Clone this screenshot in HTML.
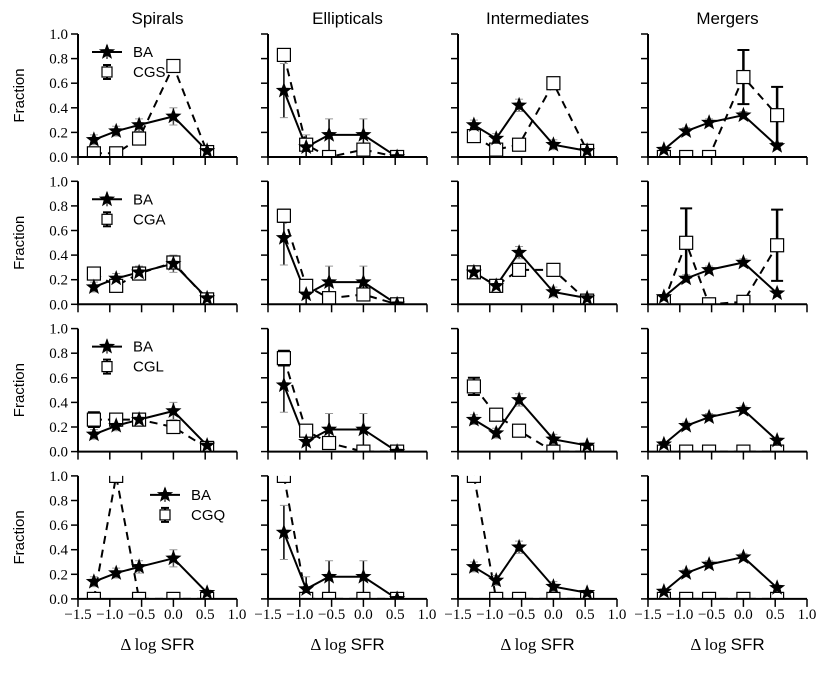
<!DOCTYPE html>
<html><head><meta charset="utf-8"><style>
body{margin:0;background:#fff}
svg text{fill:#000}
</style></head><body>
<svg id="c" width="831" height="671" xmlns="http://www.w3.org/2000/svg"></svg>
<script>
const titles=["Spirals","Ellipticals","Intermediates","Mergers"];
const cmpNames=["CGS","CGA","CGL","CGQ"];
const xs=[-1.25,-0.9,-0.54,0,0.53];
const baVals=[[0.14,0.21,0.26,0.33,0.05],[0.54,0.08,0.18,0.18,0.0],[0.26,0.15,0.42,0.1,0.05],[0.06,0.21,0.28,0.34,0.09]];
const baErr=[[0.04,0.04,0.05,0.07,0.02],[0.22,0.1,0.13,0.13,0.02],[0.04,0.04,0.05,0.04,0.02],[0.02,0.03,0.03,0.03,0.02]];
const cgsVals=[[0.03,0.03,0.15,0.74,0.04],[0.83,0.1,0.0,0.06,0.0],[0.17,0.06,0.1,0.6,0.05],[0.0,0.0,0.0,0.65,0.34]];
const cgsErr=[[0,0,0,0,0],[0.04,0,0,0,0],[0,0,0,0.03,0],[0,0,0,0.22,0.23]];
const cgaVals=[[0.25,0.15,0.25,0.34,0.04],[0.72,0.15,0.05,0.08,0.0],[0.26,0.15,0.28,0.28,0.03],[0.02,0.5,0.0,0.02,0.48]];
const cgaErr=[[0,0.02,0.03,0.04,0],[0.05,0.03,0,0,0],[0,0,0,0,0],[0,0.28,0,0.02,0.29]];
const cglVals=[[0.26,0.26,0.26,0.2,0.03],[0.76,0.17,0.07,0.0,0.0],[0.53,0.3,0.17,0.0,0.0],[0.0,0.0,0.0,0.0,0.0]];
const cglErr=[[0.06,0.05,0.04,0.04,0],[0.06,0.04,0.02,0,0],[0.07,0.04,0.02,0,0],[0,0,0,0,0]];
const cgqVals=[[0.0,1.0,0.0,0.0,0.0],[1.0,0.0,0.0,0.0,0.0],[1.0,0.0,0.0,0.0,0.0],[0.0,0.0,0.0,0.0,0.0]];
const cgqErr=[[0,0,0,0,0],[0,0,0,0,0],[0,0,0,0,0],[0,0,0,0,0]];
const cmpVals=[cgsVals,cgaVals,cglVals,cgqVals];
const cmpErr=[cgsErr,cgaErr,cglErr,cgqErr];
const xTicks=[-1.5,-1.0,-0.5,0.0,0.5,1.0];
const xTickLabels=["\u22121.5","\u22121.0","\u22120.5","0.0","0.5","1.0"];
const yTicks=[0,0.2,0.4,0.6,0.8,1.0];
const yTickLabels=["0.0","0.2","0.4","0.6","0.8","1.0"];

const NS="http://www.w3.org/2000/svg";
const svg=document.getElementById('c');
const SERIF='"Liberation Serif",serif', SANS='"Liberation Sans",sans-serif';
function mk(tag,attrs,parent){const e=document.createElementNS(NS,tag);for(const k in attrs)e.setAttribute(k,attrs[k]);(parent||svg).appendChild(e);return e;}
function star(cx,cy,R){let p=[];for(let i=0;i<10;i++){const r=i%2?R*0.42:R;const a=-Math.PI/2+i*Math.PI/5;p.push((cx+r*Math.cos(a)).toFixed(1)+","+(cy+r*Math.sin(a)).toFixed(1));}return p.join(" ");}

for(let r=0;r<4;r++){for(let c=0;c<4;c++){
  const x0=78+c*190,W=159,yb=157+r*147.3,H=123;
  const X=v=>x0+(v+1.5)/2.5*W, Y=v=>yb-v*H;
  const g=mk('g',{});
  
  
  const cid='clip'+r+c;
  const cp=mk('clipPath',{id:cid},g);mk('rect',{x:x0,y:yb-H,width:W,height:H},cp);
  const plot=mk('g',{'clip-path':'url(#'+cid+')'},g);
  const cv=cmpVals[r][c],ce=cmpErr[r][c];
  const dl=mk('polyline',{points:xs.map((x,i)=>X(x)+","+Y(cv[i])).join(" "),fill:"none",stroke:"#000","stroke-width":2,"stroke-dasharray":"8,6"},plot);
  
  const bv=baVals[c],be=baErr[c];
  xs.forEach((x,i)=>{const e=be[i];const l=mk('line',{x1:X(x),x2:X(x),y1:Y(bv[i]-e),y2:Y(bv[i]+e),stroke:c==1?"#000":"#444","stroke-width":1.5},plot);
    
    mk('line',{x1:X(x)-4,x2:X(x)+4,y1:Y(bv[i]+e),y2:Y(bv[i]+e),stroke:"#999","stroke-width":1},plot);
    mk('line',{x1:X(x)-4,x2:X(x)+4,y1:Y(bv[i]-e),y2:Y(bv[i]-e),stroke:"#999","stroke-width":1},plot);});
  const bl=mk('polyline',{points:xs.map((x,i)=>X(x)+","+Y(bv[i])).join(" "),fill:"none",stroke:"#000","stroke-width":2},plot);
  
  xs.forEach((x,i)=>{const e=ce[i];if(e>0){
    const l=mk('line',{x1:X(x),x2:X(x),y1:Y(cv[i]-e),y2:Y(cv[i]+e),stroke:"#000","stroke-width":2.5},plot);
    
    mk('line',{x1:X(x)-6,x2:X(x)+6,y1:Y(cv[i]+e),y2:Y(cv[i]+e),stroke:"#000","stroke-width":2},plot);
    mk('line',{x1:X(x)-6,x2:X(x)+6,y1:Y(cv[i]-e),y2:Y(cv[i]-e),stroke:"#000","stroke-width":2},plot);}
    const s=mk('rect',{x:X(x)-6.5,y:Y(cv[i])-6.5,width:13,height:13,fill:"#fff",stroke:"#000","stroke-width":1.2},plot);
    });
  xs.forEach((x,i)=>{const s=mk('polygon',{points:star(X(x),Y(bv[i]),8.5),fill:"#000"},plot);
    });
  const ax=mk('path',{d:`M${x0} ${yb-H}V${yb}H${x0+W}`,fill:"none",stroke:"#000","stroke-width":2},g);
  
  xTicks.forEach((t,i)=>{mk('line',{x1:X(t),x2:X(t),y1:yb,y2:yb+8,stroke:"#000","stroke-width":1.5},g);
    if(r==3){const tl=mk('text',{x:X(t),y:yb+20,'text-anchor':'middle','font-family':SERIF,'font-size':15},g);tl.textContent=xTickLabels[i];
      }});
  yTicks.forEach((t,i)=>{mk('line',{x1:x0-7,x2:x0,y1:Y(t),y2:Y(t),stroke:"#000","stroke-width":1.5},g);
    if(c==0){const tl=mk('text',{x:x0-10,y:Y(t)+5,'text-anchor':'end','font-family':SERIF,'font-size':15},g);tl.textContent=yTickLabels[i];
      }});
  if(r==0){const t=mk('text',{x:x0+W/2,y:24,'text-anchor':'middle','font-family':SANS,'font-size':17},g);t.textContent=titles[c];
    }
  if(r==3){const t=mk('text',{x:x0+W/2,y:650,'text-anchor':'middle','font-size':17},g);
    
    t.innerHTML='<tspan font-family="Liberation Serif">\u0394 log </tspan><tspan font-family="Liberation Sans">SFR</tspan>';}
  if(c==0){const t=mk('text',{transform:`translate(24 ${yb-H/2}) rotate(-90)`,'text-anchor':'middle','font-family':SANS,'font-size':15},g);t.textContent="Fraction";
    
    const lx=r==3?150:92, ly=(yb-H)+(r==3?19:18);
    const lg=mk('g',{},g);
    mk('line',{x1:lx,x2:lx+30,y1:ly,y2:ly,stroke:"#000","stroke-width":2},lg);
    mk('line',{x1:lx+15,x2:lx+15,y1:ly-7,y2:ly+7,stroke:"#444","stroke-width":1.5},lg);
    mk('polygon',{points:star(lx+15,ly,8.5),fill:"#000"},lg);
    const t1=mk('text',{x:lx+41,y:ly+5,'font-family':SANS,'font-size':15},lg);t1.textContent="BA";
    mk('line',{x1:lx+15,x2:lx+15,y1:ly+13,y2:ly+27,stroke:"#000","stroke-width":2},lg);
    mk('line',{x1:lx+11,x2:lx+19,y1:ly+13,y2:ly+13,stroke:"#000","stroke-width":2},lg);
    mk('line',{x1:lx+11,x2:lx+19,y1:ly+27,y2:ly+27,stroke:"#000","stroke-width":2},lg);
    mk('rect',{x:lx+10,y:ly+15,width:10,height:10,fill:"#fff",stroke:"#000","stroke-width":1.2},lg);
    const t2=mk('text',{x:lx+41,y:ly+25,'font-family':SANS,'font-size':15},lg);t2.textContent=cmpNames[r];}
}}
</script>
</body></html>
